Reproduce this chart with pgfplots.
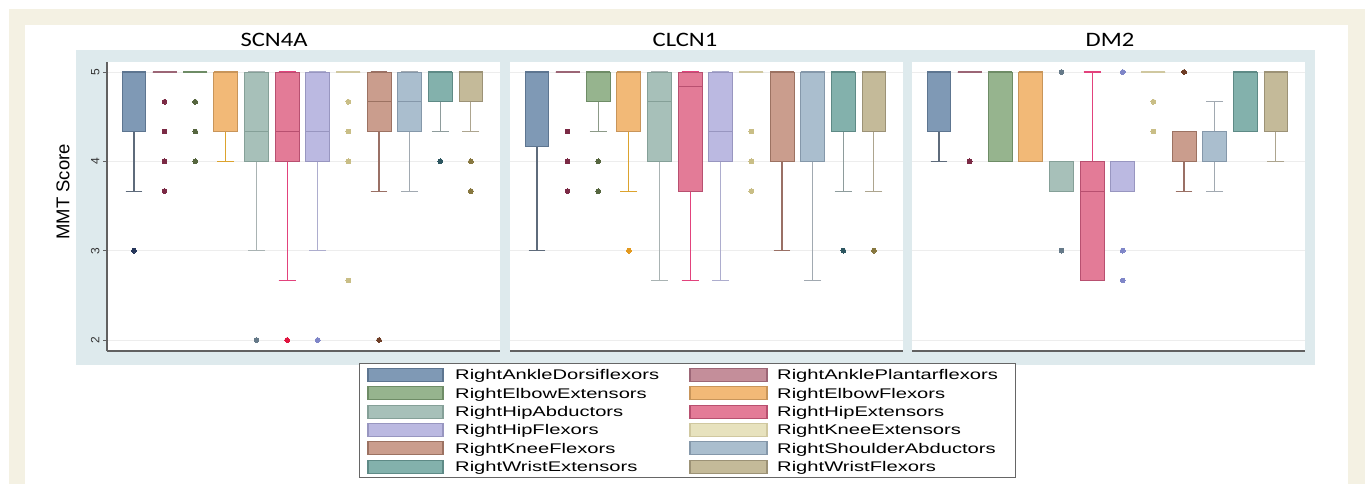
\documentclass[border=0pt]{standalone}
\usepackage{pgfplots}
\pgfplotsset{compat=1.18}
\usepgfplotslibrary{statistics}
\usepackage{fontspec}
\setmainfont{Liberation Sans}
\newfontfamily\titlefont[FakeStretch=1.2]{Carlito}
\newfontfamily\legfont[FakeStretch=1.44]{Liberation Sans}

\definecolor{cream}{HTML}{F4F1E3}
\definecolor{panelblue}{HTML}{DEEAED}

\definecolor{c1}{HTML}{7F99B5}\definecolor{e1}{HTML}{5D7590}\definecolor{w1}{HTML}{5E6B7B}\definecolor{o1}{HTML}{26365A}
\definecolor{c2}{HTML}{C48E9A}\definecolor{e2}{HTML}{9C6676}\definecolor{w2}{HTML}{9C6676}\definecolor{o2}{HTML}{7B2A45}
\definecolor{c3}{HTML}{96B48E}\definecolor{e3}{HTML}{6E8C66}\definecolor{w3}{HTML}{8C9A88}\definecolor{o3}{HTML}{56663F}
\definecolor{c4}{HTML}{F2B977}\definecolor{e4}{HTML}{C8955A}\definecolor{w4}{HTML}{DCA32E}\definecolor{o4}{HTML}{E3991E}
\definecolor{c5}{HTML}{A7C0B9}\definecolor{e5}{HTML}{85A098}\definecolor{w5}{HTML}{A9B3B3}\definecolor{o5}{HTML}{667A89}
\definecolor{c6}{HTML}{E37B97}\definecolor{e6}{HTML}{B85070}\definecolor{w6}{HTML}{E2427C}\definecolor{o6}{HTML}{E0153F}
\definecolor{c7}{HTML}{BBB9E1}\definecolor{e7}{HTML}{9896C0}\definecolor{w7}{HTML}{ADADCE}\definecolor{o7}{HTML}{7F86C8}
\definecolor{c8}{HTML}{E7E2BE}\definecolor{e8}{HTML}{D0C8A0}\definecolor{w8}{HTML}{D0C8A0}\definecolor{o8}{HTML}{C9BE86}
\definecolor{c9}{HTML}{CA9D8D}\definecolor{e9}{HTML}{9C7262}\definecolor{w9}{HTML}{9A7065}\definecolor{o9}{HTML}{6E3D26}
\definecolor{c10}{HTML}{AABECE}\definecolor{e10}{HTML}{8598AA}\definecolor{w10}{HTML}{A1A9B1}\definecolor{o10}{HTML}{6E7E90}
\definecolor{c11}{HTML}{83B1AC}\definecolor{e11}{HTML}{5E8A86}\definecolor{w11}{HTML}{8E9C9C}\definecolor{o11}{HTML}{2D5660}
\definecolor{c12}{HTML}{C4BA99}\definecolor{e12}{HTML}{9C9276}\definecolor{w12}{HTML}{ADA58F}\definecolor{o12}{HTML}{87773F}

\pgfplotsset{
  bs/.style={fill=c#1, draw=e#1, line width=0.9pt, solid, mark=*, mark size=2.4pt,
    mark options={fill=o#1, draw=o#1, line width=0pt},
    boxplot/every whisker/.style={draw=w#1, line width=1.1pt},
    boxplot/every median/.style={draw=e#1, line width=1.1pt}},
  panel/.style={
    scale only axis, width=393pt, height=289pt,
    xmin=0.12, xmax=12.95, ymin=1.877, ymax=5.112,
    xtick=\empty, ytick={2,3,4,5},
    axis background/.style={fill=white},
    ymajorgrids, grid style={draw=black!7, line width=0.8pt},
    axis lines*=left, axis line style={draw=black!62, line width=1.3pt},
    tick align=outside, major tick length=4pt,
    ytick style={draw=black!62, line width=0.8pt},
    /pgf/number format/assume math mode=true,
    yticklabel style={rotate=90, anchor=south, font=\fontsize{12}{12}\selectfont, text=black!80},
    boxplot/draw direction=y,
    boxplot/box extend=0.78, boxplot/whisker extend=0.55,
  },
  inner/.style={y axis line style={draw=none}, yticklabels={}, ytick style={draw=none}},
}
\newcommand{\bp}[7]{\addplot[bs=#1, boxplot prepared={draw position=#1, lower whisker=#2, lower quartile=#3, median=#4, upper quartile=#5, upper whisker=#6}] #7;}

\begin{document}
\begin{tikzpicture}[x=1pt,y=1pt]
\useasboundingbox (0,0) rectangle (1365,484);
\fill[white] (0,0) rectangle (1365,484);
\fill[cream] (9,0) rectangle (1365,475);
\fill[white] (25,0) rectangle (1348,459);
\fill[panelblue] (76,119) rectangle (1315,434);

% ---------- SCN4A ----------
\begin{axis}[panel, at={(107pt,133pt)}, anchor=south west]
\bp{1}{3.6667}{4.3333}{5}{5}{5}{table[row sep=\\,y index=0]{3\\}}
\bp{2}{5}{5}{5}{5}{5}{table[row sep=\\,y index=0]{4.6667\\4.3333\\4\\3.6667\\}}
\bp{3}{5}{5}{5}{5}{5}{table[row sep=\\,y index=0]{4.6667\\4.3333\\4\\}}
\bp{4}{4}{4.3333}{5}{5}{5}{coordinates {}}
\bp{5}{3}{4}{4.3333}{5}{5}{table[row sep=\\,y index=0]{2\\}}
\bp{6}{2.6667}{4}{4.3333}{5}{5}{table[row sep=\\,y index=0]{2\\}}
\bp{7}{3}{4}{4.3333}{5}{5}{table[row sep=\\,y index=0]{2\\}}
\bp{8}{5}{5}{5}{5}{5}{table[row sep=\\,y index=0]{4.6667\\4.3333\\4\\2.6667\\}}
\bp{9}{3.6667}{4.3333}{4.6667}{5}{5}{table[row sep=\\,y index=0]{2\\}}
\bp{10}{3.6667}{4.3333}{4.6667}{5}{5}{coordinates {}}
\bp{11}{4.3333}{4.6667}{5}{5}{5}{table[row sep=\\,y index=0]{4\\}}
\bp{12}{4.3333}{4.6667}{5}{5}{5}{table[row sep=\\,y index=0]{4\\3.6667\\}}
\end{axis}

% ---------- CLCN1 ----------
\begin{axis}[panel, inner, at={(510pt,133pt)}, anchor=south west]
\bp{1}{3}{4.1667}{5}{5}{5}{coordinates {}}
\bp{2}{5}{5}{5}{5}{5}{table[row sep=\\,y index=0]{4.3333\\4\\3.6667\\}}
\bp{3}{4.3333}{4.6667}{5}{5}{5}{table[row sep=\\,y index=0]{4\\3.6667\\}}
\bp{4}{3.6667}{4.3333}{5}{5}{5}{table[row sep=\\,y index=0]{3\\}}
\bp{5}{2.6667}{4}{4.6667}{5}{5}{coordinates {}}
\bp{6}{2.6667}{3.6667}{4.8333}{5}{5}{coordinates {}}
\bp{7}{2.6667}{4}{4.3333}{5}{5}{coordinates {}}
\bp{8}{5}{5}{5}{5}{5}{table[row sep=\\,y index=0]{4.3333\\4\\3.6667\\}}
\bp{9}{3}{4}{5}{5}{5}{coordinates {}}
\bp{10}{2.6667}{4}{5}{5}{5}{coordinates {}}
\bp{11}{3.6667}{4.3333}{5}{5}{5}{table[row sep=\\,y index=0]{3\\}}
\bp{12}{3.6667}{4.3333}{5}{5}{5}{table[row sep=\\,y index=0]{3\\}}
\end{axis}

% ---------- DM2 ----------
\begin{axis}[panel, inner, at={(912pt,133pt)}, anchor=south west]
\bp{1}{4}{4.3333}{5}{5}{5}{coordinates {}}
\bp{2}{5}{5}{5}{5}{5}{table[row sep=\\,y index=0]{4\\}}
\bp{3}{4}{4}{5}{5}{5}{coordinates {}}
\bp{4}{4}{4}{5}{5}{5}{coordinates {}}
\bp{5}{3.6667}{3.6667}{4}{4}{4}{table[row sep=\\,y index=0]{5\\3\\}}
\bp{6}{2.6667}{2.6667}{3.6667}{4}{5}{coordinates {}}
\bp{7}{3.6667}{3.6667}{4}{4}{4}{table[row sep=\\,y index=0]{5\\3\\2.6667\\}}
\bp{8}{5}{5}{5}{5}{5}{table[row sep=\\,y index=0]{4.6667\\4.3333\\}}
\bp{9}{3.6667}{4}{4}{4.3333}{4.3333}{table[row sep=\\,y index=0]{5\\}}
\bp{10}{3.6667}{4}{4.3333}{4.3333}{4.6667}{coordinates {}}
\bp{11}{4.3333}{4.3333}{5}{5}{5}{coordinates {}}
\bp{12}{4}{4.3333}{5}{5}{5}{coordinates {}}
\end{axis}

% titles and label
\node[font=\titlefont\fontsize{20.5}{20.5}\selectfont, anchor=base] at (274,437.5) {SCN4A};
\node[font=\titlefont\fontsize{20.5}{20.5}\selectfont, anchor=base] at (685,437.5) {CLCN1};
\node[font=\titlefont\fontsize{20.5}{20.5}\selectfont, anchor=base] at (1110,437.5) {DM2};
\node[font=\fontsize{18.5}{18.5}\selectfont, rotate=90, inner sep=0] at (63,292) {MMT Score};

% legend
\draw[black!60, line width=1pt, fill=white] (359,6) rectangle (1015,120);
\foreach \i/\yc/\name in {1/109/RightAnkleDorsiflexors, 3/90.7/RightElbowExtensors, 5/72.3/RightHipAbductors, 7/54/RightHipFlexors, 9/35.7/RightKneeFlexors, 11/17.3/RightWristExtensors}{
  \draw[fill=c\i, draw=e\i, line width=1.2pt] (368,\yc-6.5) rectangle (443,\yc+6.5);
  \node[anchor=base west, inner sep=0, font=\legfont\fontsize{14}{14}\selectfont] at (455,\yc-5) {\name};
}
\foreach \i/\yc/\name in {2/109/RightAnklePlantarflexors, 4/90.7/RightElbowFlexors, 6/72.3/RightHipExtensors, 8/54/RightKneeExtensors, 10/35.7/RightShoulderAbductors, 12/17.3/RightWristFlexors}{
  \draw[fill=c\i, draw=e\i, line width=1.2pt] (690,\yc-6.5) rectangle (767,\yc+6.5);
  \node[anchor=base west, inner sep=0, font=\legfont\fontsize{14}{14}\selectfont] at (777,\yc-5) {\name};
}
\end{tikzpicture}
\end{document}
